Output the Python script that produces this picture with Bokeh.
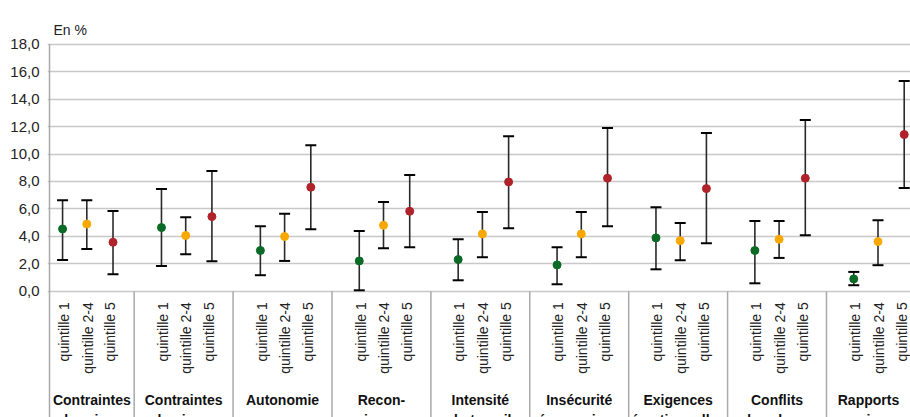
import numpy as np
from bokeh.plotting import figure
from bokeh.models import Range1d, FixedTicker, ColumnDataSource, Whisker, TeeHead
from bokeh.core.properties import value
from bokeh.embed import file_html
from bokeh.resources import INLINE

# ---- data ----
group_line1 = ["Contraintes", "Contraintes", "Autonomie", "Recon-", "Intensité",
               "Insécurité", "Exigences", "Conflits", "Rapports"]
group_line2 = ["horaires", "physiques", "", "naissance", "du travail",
               "économique", "émotionnelles", "de valeurs", "sociaux"]
quintiles = ["quintille 1", "quintille 2-4", "quintille 5"]

q1_val = [4.54, 4.64, 2.97, 2.21, 2.31, 1.92, 3.89, 2.97, 0.90]
q1_low = [2.28, 1.85, 1.17, 0.07, 0.80, 0.51, 1.60, 0.58, 0.44]
q1_high = [6.63, 7.46, 4.74, 4.40, 3.79, 3.21, 6.12, 5.12, 1.41]

q24_val = [4.90, 4.06, 3.99, 4.81, 4.18, 4.18, 3.69, 3.79, 3.62]
q24_low = [3.08, 2.70, 2.21, 3.13, 2.48, 2.48, 2.26, 2.43, 1.90]
q24_high = [6.63, 5.39, 5.64, 6.51, 5.78, 5.78, 4.98, 5.12, 5.17]

q5_val = [3.57, 5.44, 7.58, 5.83, 7.97, 8.24, 7.48, 8.24, 11.42]
q5_low = [1.24, 2.19, 4.52, 3.21, 4.59, 4.74, 3.50, 4.08, 7.53]
q5_high = [5.85, 8.77, 10.64, 8.48, 11.30, 11.90, 11.54, 12.49, 15.33]

y_ticks = [0, 2, 4, 6, 8, 10, 12, 14, 16, 18]
y_tick_labels = ["0,0", "2,0", "4,0", "6,0", "8,0", "10,0", "12,0", "14,0", "16,0", "18,0"]
unit_label = "En %"

series = [
    (q1_val, q1_low, q1_high, "#0b6b26"),
    (q24_val, q24_low, q24_high, "#f9a800"),
    (q5_val, q5_low, q5_high, "#b0232a"),
]
offsets = [-0.245, 0.0, 0.265]
label_offsets = [-0.232, 0.008, 0.238]

FONT = "Liberation Sans"

# ---- figure ----
x_start, x_end = 0.1026, 8.8286
axis_x = 0.1229
y_min, y_max = -9.2, 21.19

p = figure(width=910, height=417, output_backend="svg", toolbar_location=None,
           x_range=Range1d(x_start, x_end), y_range=Range1d(y_min, y_max),
           x_axis_type=None, min_border_left=47, min_border_right=0,
           min_border_top=0, min_border_bottom=0)
p.outline_line_color = None
p.background_fill_color = "white"
p.border_fill_color = "white"

yax = p.yaxis[0]
yax.ticker = FixedTicker(ticks=y_ticks)
yax.major_label_overrides = {t: l for t, l in zip(y_ticks, y_tick_labels)}
yax.major_tick_line_color = None
yax.minor_tick_line_color = None
yax.major_tick_out = 0
yax.major_tick_in = 0
yax.major_label_standoff = 8
yax.axis_line_color = None
yax.major_label_text_font = FONT
yax.major_label_text_font_size = "15px"
yax.major_label_text_color = "#222222"

p.ygrid.ticker = FixedTicker(ticks=y_ticks)
p.ygrid.grid_line_color = "#c8c8c8"
p.ygrid.grid_line_width = 1.5

n = len(group_line1)
centers = np.arange(n) + 0.5

# vertical axis line (from top of scale down through the label area)
p.segment(x0=[axis_x], y0=[y_ticks[-1]], x1=[axis_x], y1=[y_min],
          line_color="#a9a9a9", line_width=1.5)

# separators in the label area
seps = [k - 0.021 for k in range(1, n)]
p.segment(x0=seps, y0=[0] * len(seps), x1=seps, y1=[y_min] * len(seps),
          line_color="#a9a9a9", line_width=1.5)

# error bars and points
for (vals, lows, highs, col), off in zip(series, offsets):
    xs = centers + off
    src = ColumnDataSource(dict(x=xs, v=vals, lo=lows, hi=highs))
    w = Whisker(source=src, base="x", lower="lo", upper="hi", dimension="height",
                line_color="#2a2a2a", line_width=1.6,
                upper_head=TeeHead(size=11, line_color="black", line_width=2),
                lower_head=TeeHead(size=11, line_color="black", line_width=2))
    p.add_layout(w)
    p.scatter(x="x", y="v", source=src, size=8, fill_color=col, line_color=col)

# rotated quintile labels
qx, qt = [], []
for g in range(n):
    for off, q in zip(label_offsets, quintiles):
        qx.append(centers[g] + off)
        qt.append(q)
p.text(x=qx, y=[-0.80] * len(qx), text=qt, angle=np.pi / 2, text_align="right",
       text_baseline="middle", text_font=value(FONT), text_font_size="14px",
       text_color="#222222")

# group labels centred in visible cells
edges = [axis_x] + seps + [x_end]
gx = [(edges[i] + edges[i + 1]) / 2 for i in range(n)]
p.text(x=gx, y=[-7.91] * n, text=group_line1, text_align="center",
       text_baseline="alphabetic", text_font=value(FONT), text_font_size="14px",
       text_font_style="bold", text_color="#111111")
p.text(x=gx, y=[-9.40] * n, text=group_line2, text_align="center",
       text_baseline="alphabetic", text_font=value(FONT), text_font_size="14px",
       text_font_style="bold", text_color="#111111")

# unit label
p.text(x=[axis_x + 0.04], y=[19.02], text=[unit_label], text_align="left",
       text_baseline="alphabetic", text_font=value(FONT), text_font_size="14px",
       text_color="#222222")

open("out.html", "w").write(file_html(p, INLINE))
